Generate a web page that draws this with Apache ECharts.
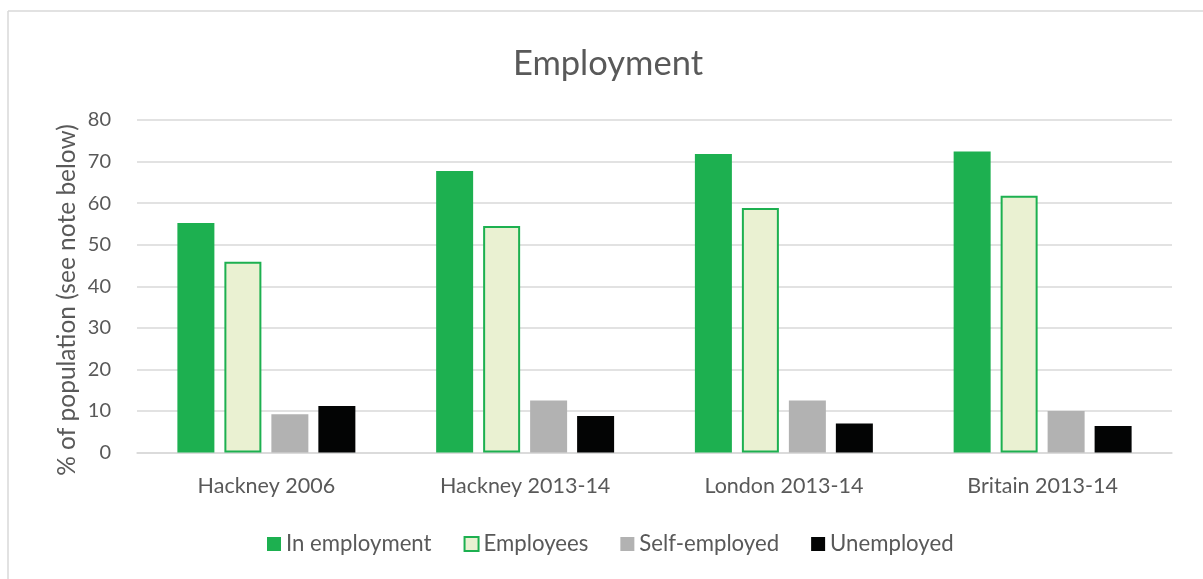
<!DOCTYPE html>
<html>
<head>
<meta charset="utf-8">
<script src="https://cdn.jsdelivr.net/npm/echarts@6/dist/echarts.min.js"></script>
<style>
  html, body { margin: 0; padding: 0; background: #fff; }
  #chart { width: 1203px; height: 579px; }
</style>
</head>
<body>
<div id="chart"></div>
<script>
// Employment rates by area and period (% of population)
const categories = ['Hackney 2006', 'Hackney 2013-14', 'London 2013-14', 'Britain 2013-14'];
const inEmployment = [55.2, 67.7, 71.8, 72.4];
const employees = [45.9, 54.5, 58.8, 61.8];
const selfEmployed = [9.2, 12.5, 12.5, 10.0];
const unemployed = [11.2, 8.8, 7.0, 6.4];
const yTicks = { min: 0, max: 80, interval: 10 };

const FONT = 'Lato, "Open Sans", sans-serif';
const TEXT = '#595959';
const GRID = '#d9d9d9';

const chart = echarts.init(document.getElementById('chart'), null, { renderer: 'canvas' });

chart.setOption({
  animation: false,
  backgroundColor: '#ffffff',
  title: {
    text: 'Employment',
    left: 603,
    top: 41,
    textAlign: 'center',
    textStyle: { fontFamily: FONT, fontSize: 34.5, fontWeight: 'normal', color: TEXT }
  },
  grid: { left: 137, right: 31, top: 120, bottom: 126.5, containLabel: false },
  legend: {
    bottom: 19,
    left: 262,
    icon: 'rect',
    itemWidth: 14,
    itemHeight: 14,
    itemGap: 32,
    textStyle: { fontFamily: FONT, fontSize: 22.2, color: TEXT },
    data: ['In employment', 'Employees', 'Self-employed', 'Unemployed']
  },
  xAxis: {
    type: 'category',
    data: categories,
    axisLine: { show: true, lineStyle: { color: GRID, width: 1.5 } },
    axisTick: { show: false },
    axisLabel: { fontFamily: FONT, fontSize: 21.5, color: TEXT, margin: 23 }
  },
  yAxis: {
    type: 'value',
    min: yTicks.min,
    max: yTicks.max,
    interval: yTicks.interval,
    axisLine: { show: false },
    axisTick: { show: false },
    axisLabel: { fontFamily: FONT, fontSize: 20, color: TEXT, margin: 26 },
    splitLine: { lineStyle: { color: GRID, width: 1.5 } }
  },
  series: [
    {
      name: 'In employment', type: 'bar', data: inEmployment,
      barWidth: 37, barGap: '27%',
      itemStyle: { color: '#1db050' }
    },
    {
      name: 'Employees', type: 'bar', data: employees,
      barWidth: 37, barGap: '27%',
      itemStyle: { color: '#eaf1d2', borderColor: '#1db050', borderWidth: 2 }
    },
    {
      name: 'Self-employed', type: 'bar', data: selfEmployed,
      barWidth: 37, barGap: '27%',
      itemStyle: { color: '#b2b2b2' }
    },
    {
      name: 'Unemployed', type: 'bar', data: unemployed,
      barWidth: 37, barGap: '27%',
      itemStyle: { color: '#030404' }
    }
  ],
  graphic: [
    // chart frame (top and left edges)
    { type: 'line', shape: { x1: 8, y1: 11, x2: 1203, y2: 11 }, style: { stroke: GRID, lineWidth: 1.5 } },
    { type: 'line', shape: { x1: 8, y1: 11, x2: 8, y2: 579 }, style: { stroke: GRID, lineWidth: 1.5 } },
    // y-axis title
    {
      type: 'text',
      x: 67.5, y: 300,
      rotation: Math.PI / 2,
      style: {
        text: '% of population (see note below)',
        fontFamily: FONT, fontSize: 24.5, fill: TEXT,
        align: 'center', verticalAlign: 'middle'
      }
    }
  ]
});
</script>
</body>
</html>
